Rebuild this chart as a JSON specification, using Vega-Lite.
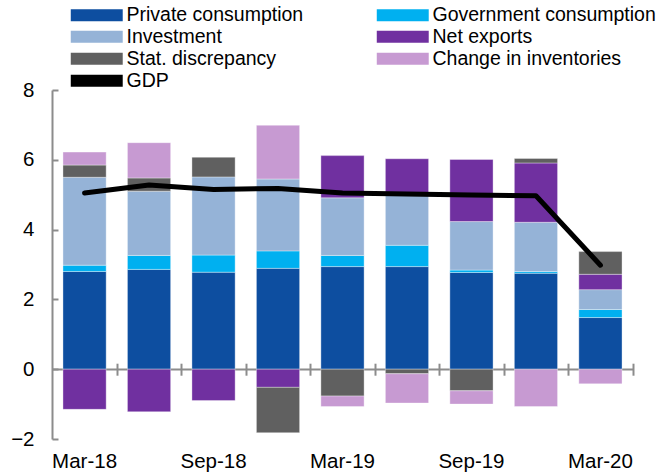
{
  "$schema": "https://vega.github.io/schema/vega-lite/v6.json",
  "autosize": "none",
  "width": 581,
  "height": 349,
  "padding": {"left": 52, "top": 90, "right": 24, "bottom": 35},
  "background": "white",
  "config": {
    "font": "Liberation Sans",
    "view": {"stroke": null},
    "axis": {"labelFont": "Liberation Sans", "labelColor": "black", "labelFontSize": 20.5, "title": null}
  },
  "datasets": {
    "parts": [
      {"q": "Mar-18", "series": "Private consumption", "value": 2.80},
      {"q": "Mar-18", "series": "Government consumption", "value": 0.18},
      {"q": "Mar-18", "series": "Investment", "value": 2.52},
      {"q": "Mar-18", "series": "Net exports", "value": -1.15},
      {"q": "Mar-18", "series": "Stat. discrepancy", "value": 0.35},
      {"q": "Mar-18", "series": "Change in inventories", "value": 0.37},
      {"q": "Jun-18", "series": "Private consumption", "value": 2.86},
      {"q": "Jun-18", "series": "Government consumption", "value": 0.40},
      {"q": "Jun-18", "series": "Investment", "value": 1.84},
      {"q": "Jun-18", "series": "Net exports", "value": -1.22},
      {"q": "Jun-18", "series": "Stat. discrepancy", "value": 0.38},
      {"q": "Jun-18", "series": "Change in inventories", "value": 1.01},
      {"q": "Sep-18", "series": "Private consumption", "value": 2.78},
      {"q": "Sep-18", "series": "Government consumption", "value": 0.49},
      {"q": "Sep-18", "series": "Investment", "value": 2.24},
      {"q": "Sep-18", "series": "Net exports", "value": -0.90},
      {"q": "Sep-18", "series": "Stat. discrepancy", "value": 0.57},
      {"q": "Sep-18", "series": "Change in inventories", "value": 0.0},
      {"q": "Dec-18", "series": "Private consumption", "value": 2.89},
      {"q": "Dec-18", "series": "Government consumption", "value": 0.50},
      {"q": "Dec-18", "series": "Investment", "value": 2.06},
      {"q": "Dec-18", "series": "Net exports", "value": -0.52},
      {"q": "Dec-18", "series": "Stat. discrepancy", "value": -1.30},
      {"q": "Dec-18", "series": "Change in inventories", "value": 1.54},
      {"q": "Mar-19", "series": "Private consumption", "value": 2.94},
      {"q": "Mar-19", "series": "Government consumption", "value": 0.32},
      {"q": "Mar-19", "series": "Investment", "value": 1.65},
      {"q": "Mar-19", "series": "Net exports", "value": 1.21},
      {"q": "Mar-19", "series": "Stat. discrepancy", "value": -0.77},
      {"q": "Mar-19", "series": "Change in inventories", "value": -0.30},
      {"q": "Jun-19", "series": "Private consumption", "value": 2.94},
      {"q": "Jun-19", "series": "Government consumption", "value": 0.61},
      {"q": "Jun-19", "series": "Investment", "value": 1.50},
      {"q": "Jun-19", "series": "Net exports", "value": 0.98},
      {"q": "Jun-19", "series": "Stat. discrepancy", "value": -0.13},
      {"q": "Jun-19", "series": "Change in inventories", "value": -0.84},
      {"q": "Sep-19", "series": "Private consumption", "value": 2.77},
      {"q": "Sep-19", "series": "Government consumption", "value": 0.07},
      {"q": "Sep-19", "series": "Investment", "value": 1.39},
      {"q": "Sep-19", "series": "Net exports", "value": 1.78},
      {"q": "Sep-19", "series": "Stat. discrepancy", "value": -0.62},
      {"q": "Sep-19", "series": "Change in inventories", "value": -0.38},
      {"q": "Dec-19", "series": "Private consumption", "value": 2.75},
      {"q": "Dec-19", "series": "Government consumption", "value": 0.05},
      {"q": "Dec-19", "series": "Investment", "value": 1.41},
      {"q": "Dec-19", "series": "Net exports", "value": 1.70},
      {"q": "Dec-19", "series": "Stat. discrepancy", "value": 0.13},
      {"q": "Dec-19", "series": "Change in inventories", "value": -1.07},
      {"q": "Mar-20", "series": "Private consumption", "value": 1.48},
      {"q": "Mar-20", "series": "Government consumption", "value": 0.23},
      {"q": "Mar-20", "series": "Investment", "value": 0.57},
      {"q": "Mar-20", "series": "Net exports", "value": 0.44},
      {"q": "Mar-20", "series": "Stat. discrepancy", "value": 0.65},
      {"q": "Mar-20", "series": "Change in inventories", "value": -0.42}
    ],
    "gdp": [
      {"q": "Mar-18", "gdp": 5.05},
      {"q": "Jun-18", "gdp": 5.28},
      {"q": "Sep-18", "gdp": 5.15},
      {"q": "Dec-18", "gdp": 5.18},
      {"q": "Mar-19", "gdp": 5.05},
      {"q": "Jun-19", "gdp": 5.02},
      {"q": "Sep-19", "gdp": 4.99},
      {"q": "Dec-19", "gdp": 4.97},
      {"q": "Mar-20", "gdp": 2.98}
    ]
  },
  "resolve": {"axis": {"x": "independent", "y": "independent"}},
  "layer": [
    {
      "data": {"name": "parts"},
      "transform": [
        {"calculate": "indexof(['Private consumption','Government consumption','Investment','Net exports','Stat. discrepancy','Change in inventories'], datum.series)", "as": "ord"}
      ],
      "mark": {"type": "bar", "stroke": "white", "strokeWidth": 0.6, "strokeOpacity": 0.6},
      "encoding": {
        "x": {
          "field": "q", "type": "nominal",
          "scale": {"domain": ["Mar-18","Jun-18","Sep-18","Dec-18","Mar-19","Jun-19","Sep-19","Dec-19","Mar-20"], "paddingInner": 0.33, "paddingOuter": 0.17},
          "axis": {"orient": "bottom", "values": ["Mar-18","Sep-18","Mar-19","Sep-19","Mar-20"], "domain": false, "ticks": false, "labelAngle": 0, "labelPadding": 12}
        },
        "y": {
          "field": "value", "type": "quantitative", "stack": "zero",
          "scale": {"domain": [-2, 8], "nice": false, "zero": false},
          "axis": {
            "values": [-2, 0, 2, 4, 6, 8],
            "domainColor": "#8c8c8c", "domainWidth": 2,
            "tickColor": "#8c8c8c", "tickWidth": 2, "tickSize": -6,
            "labelPadding": 24,
            "grid": true, "gridWidth": 2,
            "gridColor": {"condition": {"test": "datum.value === 0", "value": "#8c8c8c"}, "value": "transparent"}
          }
        },
        "color": {
          "field": "series", "type": "nominal",
          "scale": {
            "domain": ["Private consumption","Government consumption","Investment","Net exports","Stat. discrepancy","Change in inventories","GDP"],
            "range": ["#0D4EA0","#00B0F0","#95B3D7","#7030A0","#606060","#C79AD2","#000000"]
          },
          "legend": {
            "title": null, "orient": "none", "legendX": 35, "legendY": -85,
            "direction": "horizontal", "columns": 2, "columnPadding": 72, "rowPadding": 1,
            "symbolType": "M-4.33,-1H4.33V1H-4.33Z", "symbolSize": 144,
            "symbolStrokeWidth": 0, "symbolOpacity": 1,
            "labelFont": "Liberation Sans", "labelFontSize": 19.5, "labelColor": "black",
            "labelOffset": 20, "labelLimit": 0,
            "encode": {
              "symbols": {"shape": {"condition": {"test": "datum.value === 'GDP'", "value": "M-4.33,-0.45H4.33V0.45H-4.33Z"}, "value": "M-4.33,-1H4.33V1H-4.33Z"}}
            }
          }
        },
        "order": {"field": "ord", "type": "quantitative", "sort": "ascending"}
      }
    },
    {
      "data": {"name": "gdp"},
      "mark": {"type": "line", "color": "black", "strokeWidth": 5, "strokeCap": "round", "strokeJoin": "round"},
      "encoding": {
        "x": {
          "field": "q", "type": "nominal",
          "scale": {"domain": ["Mar-18","Jun-18","Sep-18","Dec-18","Mar-19","Jun-19","Sep-19","Dec-19","Mar-20"]},
          "axis": {"orient": "bottom", "labels": false, "domain": false, "ticks": true, "tickColor": "#8c8c8c", "tickWidth": 2, "tickSize": 12, "bandPosition": 1, "tickOffset": 10.7, "offset": -75.8}
        },
        "y": {"field": "gdp", "type": "quantitative", "axis": null}
      }
    }
  ]
}
